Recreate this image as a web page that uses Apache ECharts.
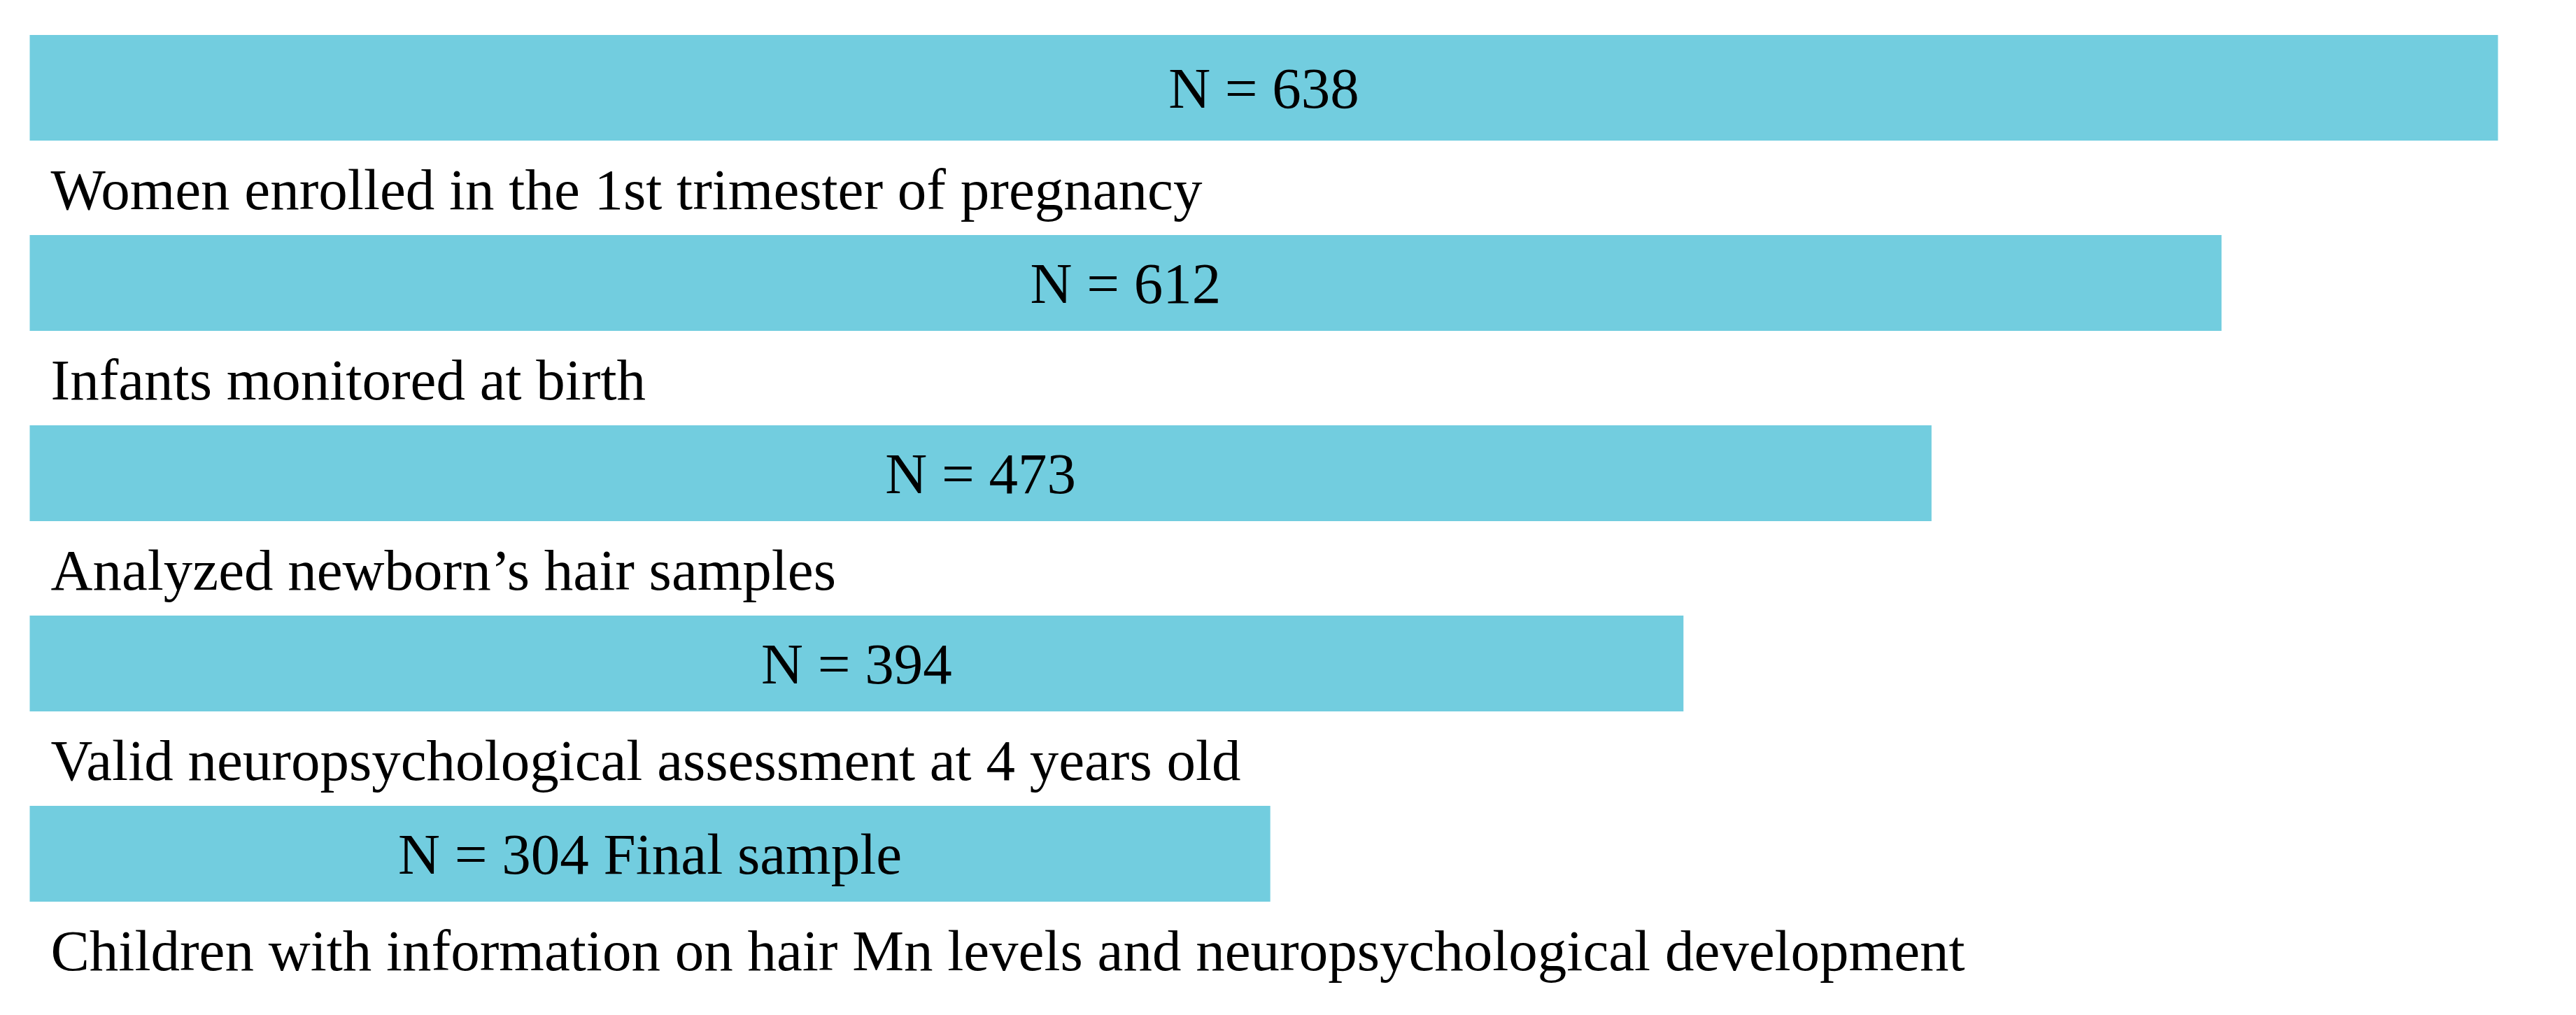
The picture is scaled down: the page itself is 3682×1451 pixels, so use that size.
<!DOCTYPE html>
<html>
<head>
<meta charset="utf-8">
<script src="https://cdn.jsdelivr.net/npm/echarts@6/dist/echarts.min.js"></script>
<style>
html,body{margin:0;padding:0;background:#fff;overflow:hidden;}
#wrap{position:relative;width:3682px;height:1451px;overflow:hidden;}
#chart{position:absolute;left:0;top:-20px;width:3682px;height:1471px;}
</style>
</head>
<body>
<div id="wrap"><div id="chart"></div></div>
<script>
// Steps of the cohort flow (top to bottom)
const stepLabels = ["N = 638", "N = 612", "N = 473", "N = 394", "N = 304 Final sample"];
const descriptions = [
  "Women enrolled in the 1st trimester of pregnancy",
  "Infants monitored at birth",
  "Analyzed newborn\u2019s hair samples",
  "Valid neuropsychological assessment at 4 years old",
  "Children with information on hair Mn levels and neuropsychological development"
];
// Bar lengths as drawn (percent of the longest bar)
const barLengths = [100, 88.8, 77.05, 67.0, 50.26];
const categories = ["s1", "s2", "s3", "s4", "s5"];

const FONT = "'Liberation Serif', 'Times New Roman', serif";
const BAR_COLOR = "#72cddf";

const firstData = barLengths.map((v, i) => i === 0 ? v : '-');
const restData = barLengths.map((v, i) => i === 0 ? '-' : v);

const barLabel = {
  show: true,
  position: 'inside',
  offset: [0, 7],
  color: '#000',
  fontFamily: FONT,
  fontSize: 83,
  formatter: p => stepLabels[p.dataIndex]
};

const chart = echarts.init(document.getElementById('chart'), null, {renderer: 'canvas'});
chart.setOption({
  animation: false,
  backgroundColor: '#ffffff',
  grid: {left: 42.5, width: 3528, top: 9.5, height: 1360, containLabel: false},
  xAxis: {type: 'value', min: 0, max: 100, show: false},
  yAxis: {type: 'category', data: categories, inverse: true, show: false},
  series: [
    {
      type: 'bar',
      data: firstData,
      barWidth: 151,
      barGap: '-90.73%',
      itemStyle: {color: BAR_COLOR},
      label: barLabel
    },
    {
      type: 'bar',
      data: restData,
      barWidth: 137,
      itemStyle: {color: BAR_COLOR},
      label: barLabel
    },
    {
      type: 'scatter',
      data: categories.map((c, i) => [0, i]),
      symbolSize: 0,
      itemStyle: {opacity: 1},
      label: {
        show: true,
        position: 'right',
        distance: 0,
        offset: [30, 152],
        align: 'left',
        verticalAlign: 'middle',
        color: '#000',
        fontFamily: FONT,
        fontSize: 83,
        formatter: p => descriptions[p.dataIndex]
      }
    }
  ]
});
</script>
</body>
</html>
